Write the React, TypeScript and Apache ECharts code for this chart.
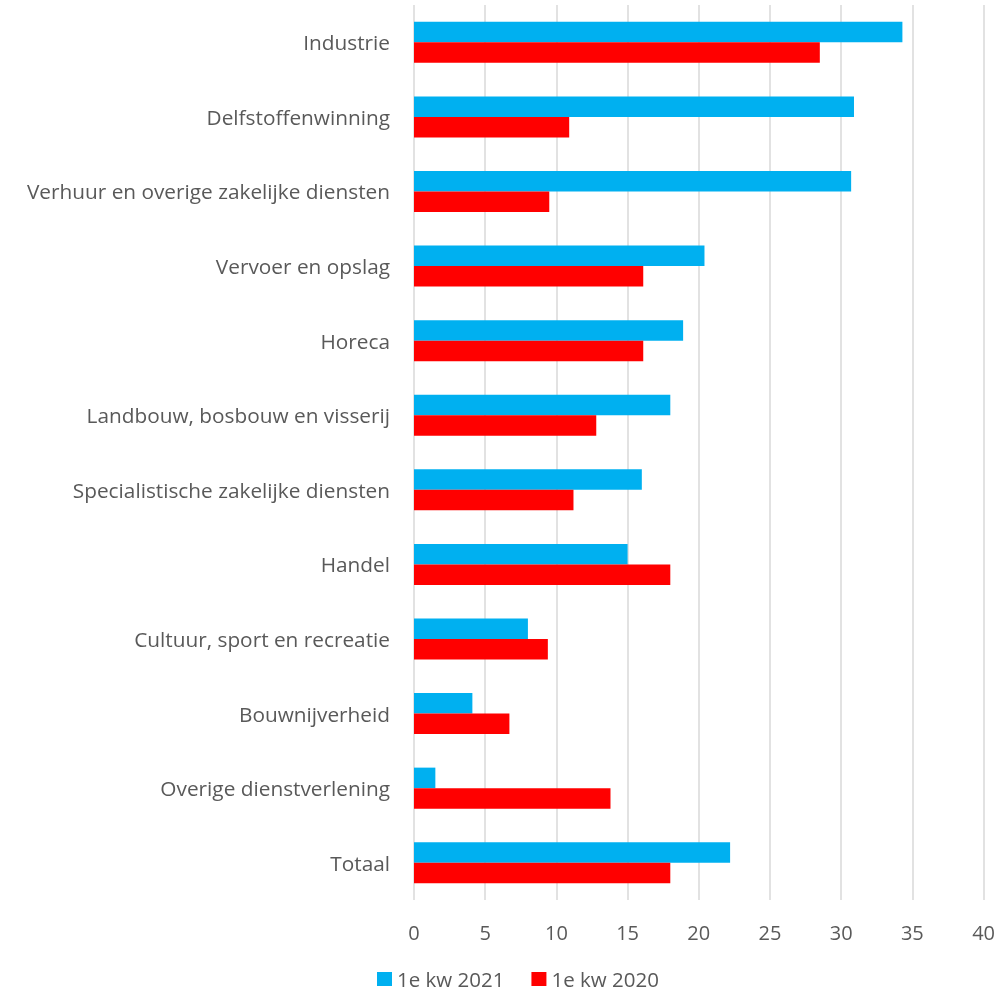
import React, { useEffect, useRef } from "react";
import * as echarts from "echarts";

const categories = [
  "Industrie",
  "Delfstoffenwinning",
  "Verhuur en overige zakelijke diensten",
  "Vervoer en opslag",
  "Horeca",
  "Landbouw, bosbouw en visserij",
  "Specialistische zakelijke diensten",
  "Handel",
  "Cultuur, sport en recreatie",
  "Bouwnijverheid",
  "Overige dienstverlening",
  "Totaal",
];
const kw2021 = [34.3, 30.9, 30.7, 20.4, 18.9, 18.0, 16.0, 15.0, 8.0, 4.1, 1.5, 22.2];
const kw2020 = [28.5, 10.9, 9.5, 16.1, 16.1, 12.8, 11.2, 18.0, 9.4, 6.7, 13.8, 18.0];
const seriesNames = ["1e kw 2021", "1e kw 2020"];

const FONT = "'Open Sans', sans-serif";
const TXT = "#595959";

export default function App() {
  const ref = useRef<HTMLDivElement>(null);
  useEffect(() => {
    if (!ref.current) return;
    const chart = echarts.init(ref.current, undefined, { renderer: "svg" });
    chart.setOption({
      animation: false,
      textStyle: { fontFamily: FONT },
      legend: {
        top: 966,
        left: 372,
        padding: [2, 5, 2, 5],
        itemWidth: 15,
        itemHeight: 14,
        itemGap: 27,
        icon: "rect",
        textStyle: { fontSize: 20.5, lineHeight: 22, color: TXT, fontFamily: FONT },
        data: seriesNames,
      },
      grid: { left: 414, right: 12, top: 5, bottom: 96, containLabel: false },
      xAxis: {
        type: "value",
        min: 0,
        max: 40,
        interval: 5,
        axisLine: { show: false },
        axisTick: { show: false },
        splitLine: { show: true, lineStyle: { color: "#d9d9d9", width: 1.5 } },
        axisLabel: { fontSize: 20, color: TXT, margin: 22, fontFamily: FONT },
      },
      yAxis: {
        type: "category",
        inverse: true,
        data: categories,
        axisLine: { show: false },
        axisTick: { show: false },
        axisLabel: { fontSize: 20.8, color: TXT, margin: 24, fontFamily: FONT },
      },
      series: [
        {
          name: seriesNames[0],
          type: "bar",
          data: kw2021,
          barWidth: 20.5,
          barGap: "0%",
          itemStyle: { color: "#00b0f0" },
        },
        {
          name: seriesNames[1],
          type: "bar",
          data: kw2020,
          barWidth: 20.5,
          barGap: "0%",
          itemStyle: { color: "#ff0000" },
        },
      ],
    });
    return () => chart.dispose();
  }, []);
  return (
    <div
      ref={ref}
      style={{ position: "fixed", left: 0, top: 0, width: 998, height: 996 }}
    />
  );
}
